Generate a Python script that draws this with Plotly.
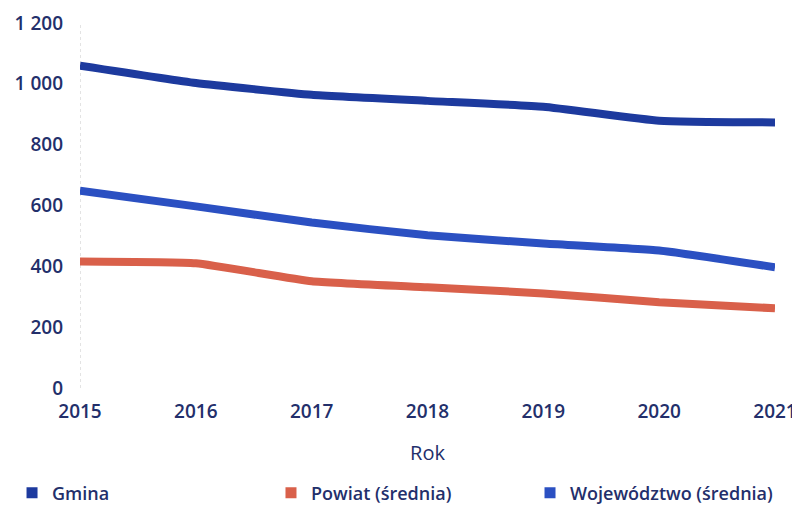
import plotly.graph_objects as go

years = [2015, 2016, 2017, 2018, 2019, 2020, 2021]
gmina = [1060, 1003, 964, 944, 925, 879, 873]
powiat = [416, 410, 351, 331, 311, 282, 262]
wojewodztwo = [649, 597, 544, 502, 475, 452, 397]
y_ticks = [0, 200, 400, 600, 800, 1000, 1200]

series = [
    ("Gmina", gmina, "#1d3a9e"),
    ("Powiat (średnia)", powiat, "#d9604a"),
    ("Województwo (średnia)", wojewodztwo, "#2b50c2"),
]
legend_ids = ["legend", "legend2", "legend3"]
legend_x = [-0.0978, 0.2748, 0.6475]

fig = go.Figure()
for name, vals, col in series:
    fig.add_trace(go.Scatter(x=years, y=vals, mode="lines", name=name,
                             line=dict(color=col, width=8, shape="spline", smoothing=0.4),
                             showlegend=False))
for (name, vals, col), lid in zip(series, legend_ids):
    fig.add_trace(go.Scatter(x=[None], y=[None], mode="markers", name=name, legend=lid,
                             marker=dict(symbol="square", size=11, color=col)))

font = "Open Sans, Noto Sans, sans-serif"
txt = "#232f6b"
leg_common = dict(orientation="h", xanchor="left", xref="paper", y=-0.2877, yref="paper",
                  yanchor="middle", font=dict(size=18, weight=600), itemwidth=30,
                  bgcolor="rgba(0,0,0,0)")
fig.update_layout(
    width=792, height=498,
    margin=dict(l=72, r=25, t=15, b=118, autoexpand=False),
    paper_bgcolor="white", plot_bgcolor="white",
    separators=", ",
    font=dict(family=font, size=19, color=txt, weight=600),
    xaxis=dict(range=[2015, 2021], tickvals=years, showgrid=False, zeroline=False,
               showline=False, ticks="", ticklabelstandoff=10,
               title=dict(text="Rok", standoff=22, font=dict(size=20, color=txt, weight=500)),
               tickfont=dict(size=19, weight=600)),
    yaxis=dict(range=[0, 1200], tickvals=y_ticks, showgrid=False, zeroline=False,
               showline=False, ticks="", tickformat=",d", tickfont=dict(size=19, weight=600),
               ticklabelstandoff=16),
    legend=dict(x=legend_x[0], **leg_common),
    legend2=dict(x=legend_x[1], **leg_common),
    legend3=dict(x=legend_x[2], **leg_common),
    shapes=[dict(type="line", xref="x", yref="paper", x0=2015, x1=2015, y0=0, y1=1,
                 line=dict(color="#c8c8c8", width=1, dash="dot"), layer="below")],
)
fig.write_html("out.html")
